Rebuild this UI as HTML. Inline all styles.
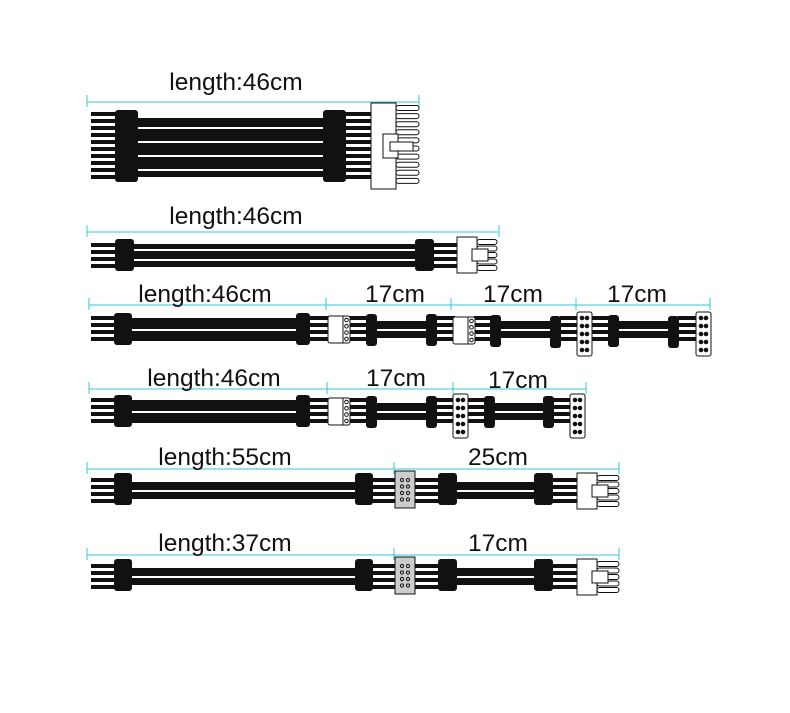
<!DOCTYPE html>
<html><head><meta charset="utf-8">
<style>
html,body{margin:0;padding:0;background:#fff;}
svg{display:block}
text{font-family:"Liberation Sans",Arial,sans-serif;font-size:24.5px;fill:#111;text-anchor:middle}
</style></head>
<body>
<svg id="s" width="790" height="713" viewBox="0 0 790 713" xmlns="http://www.w3.org/2000/svg">
<g id="g"></g>
<text x="236" y="90">length:46cm</text>
<text x="236" y="224">length:46cm</text>
<text x="205" y="302">length:46cm</text>
<text x="395" y="302">17cm</text>
<text x="513" y="302">17cm</text>
<text x="637" y="302">17cm</text>
<text x="214" y="386">length:46cm</text>
<text x="396" y="386">17cm</text>
<text x="518" y="388">17cm</text>
<text x="225" y="465">length:55cm</text>
<text x="498" y="465">25cm</text>
<text x="225" y="551">length:37cm</text>
<text x="498" y="551">17cm</text>
</svg>
<script>
var g=document.getElementById('g'),o='';
function R(x,y,w,h,f,s,rx){o+='<rect x="'+x+'" y="'+y+'" width="'+w+'" height="'+h+'" fill="'+(f||'#111')+'"'+(s?' stroke="'+s+'" stroke-width="1"':'')+(rx?' rx="'+rx+'"':'')+'/>';}
function L(x1,y1,x2,y2,c,w){o+='<line x1="'+x1+'" y1="'+y1+'" x2="'+x2+'" y2="'+y2+'" stroke="'+c+'" stroke-width="'+w+'"/>';}
function C(x,y,r,f){o+='<circle cx="'+x+'" cy="'+y+'" r="'+r+'" fill="'+f+'" stroke="#111" stroke-width="1"/>';}
function dim(x1,x2,y,t){var c='#35c4d8';L(x1,y,x2,y,c,1);t.forEach(function(x){L(x,y-7,x,y+5,c,1);});}
function wires(x1,x2,ys){ys.forEach(function(y){R(x1,y-2,x2-x1,4);});}
function mid(x1,x2,y1,y2,wl){R(x1,y1,x2-x1,y2-y1);wl.forEach(function(y){L(x1,y,x2,y,'#fff',2);});}
function blk(x1,x2,y1,y2){R(x1,y1,x2-x1,y2-y1,'#111',null,3);}
var W4=function(c){return [c-10,c-3,c+4,c+11];};
function pin4(x,y){R(x,y,22,27,'#fff','#111',2);L(x+15,y,x+15,y+27,'#111',1);for(var i=0;i<4;i++)C(x+18.5,y+4+i*6.3,1.8,'#fff');}
function pin10(x,y,h){R(x,y,15,h,'#fff','#111',2);for(var i=0;i<5;i++){var yy=y+6+i*(h-12)/4;C(x+5,yy,1.8,'#111');C(x+10,yy,1.8,'#111');}}
function gray8(x,y){R(x,y,20,37,'#ccc','#111');for(var i=0;i<4;i++){var yy=y+9+i*6.5;C(x+7,yy,1.6,'#ccc');C(x+13,yy,1.6,'#ccc');}}
function molex(x,y,h,xe){R(x,y,20,h,'#fff','#111');var n=5;for(var i=0;i<n;i++){var yy=y+5+i*(h-10)/(n-1);o+='<rect x="'+(x+20)+'" y="'+(yy-2.5)+'" width="'+(xe-x-20)+'" height="5" rx="2.5" fill="#fff" stroke="#111" stroke-width="1"/>';}R(x+15,y+h/2-6,16,12,'#fff','#111');}

/* cable 1 */
dim(87,419,102,[87,419]);
var y1=[];for(var i=0;i<10;i++)y1.push(114+i*7);
wires(91,116,y1);wires(345,372,y1);
mid(136,325,118,177,[128,142,156,170]);
blk(115,138,110,182);blk(323,346,110,182);
R(371,103,25,86,'#fff','#111');
for(var i=0;i<10;i++){var yy=108+i*8.1;o+='<rect x="396" y="'+(yy-2.5)+'" width="23" height="5" rx="2.5" fill="#fff" stroke="#111" stroke-width="1"/>';}
R(383,134,15,24,'#fff','#111');R(390,142,23,9,'#fff','#111');

/* cable 2 */
dim(87,499,232,[87,499]);
wires(91,116,W4(255));wires(433,458,W4(255));
mid(133,416,244,267,[250,260]);
blk(115,134,239,271);blk(415,434,239,271);
molex(457,237,36,497);

/* cable 3 */
dim(89,710,305,[89,326,451,576,710]);
var c3=W4(328);
wires(91,115,c3);wires(309,330,c3);wires(349,367,c3);wires(436,455,c3);wires(474,491,c3);wires(560,578,c3);wires(592,609,c3);wires(678,697,c3);
mid(131,297,318,341,[330]);mid(376,427,321,338,[330]);mid(500,551,321,338,[330]);mid(618,669,321,338,[330]);
blk(114,132,313,345);blk(296,310,313,345);blk(366,377,314,346);blk(426,437,314,346);blk(490,501,315,347);blk(550,561,316,348);blk(608,619,315,347);blk(668,679,316,348);
pin4(328,316);pin4(453,317);pin10(577,312,44);pin10(696,312,44);

/* cable 4 */
dim(89,586,389,[89,327,453,586]);
var c4=W4(410);
wires(91,115,c4);wires(309,330,c4);wires(349,367,c4);wires(436,454,c4);wires(468,485,c4);wires(553,571,c4);
mid(131,297,400,423,[412]);mid(376,427,403,420,[412]);mid(494,544,403,420,[412]);
blk(114,132,395,427);blk(296,310,395,427);blk(366,377,396,428);blk(426,437,396,428);blk(484,495,396,428);blk(543,554,396,428);
pin4(328,398);pin10(453,394,44);pin10(570,394,44);

/* cable 5 & 6 */
[[469,490],[555,576]].forEach(function(p,k){
 var dy=p[0],c=p[1];
 dim(87,619,dy,[87,394,619]);
 var w=W4(c);
 wires(91,116,w);wires(371,396,w);wires(414,440,w);wires(552,578,w);
 mid(131,356,c-8,c+9,[c+1]);mid(456,535,c-8,c+9,[c+1]);
 blk(114,132,c-17,c+15);blk(355,373,c-17,c+15);blk(438,457,c-17,c+15);blk(534,553,c-17,c+15);
 gray8(395,c-19);
 molex(577,c-17,36,619);
});
g.innerHTML=o;
</script>
</body></html>
